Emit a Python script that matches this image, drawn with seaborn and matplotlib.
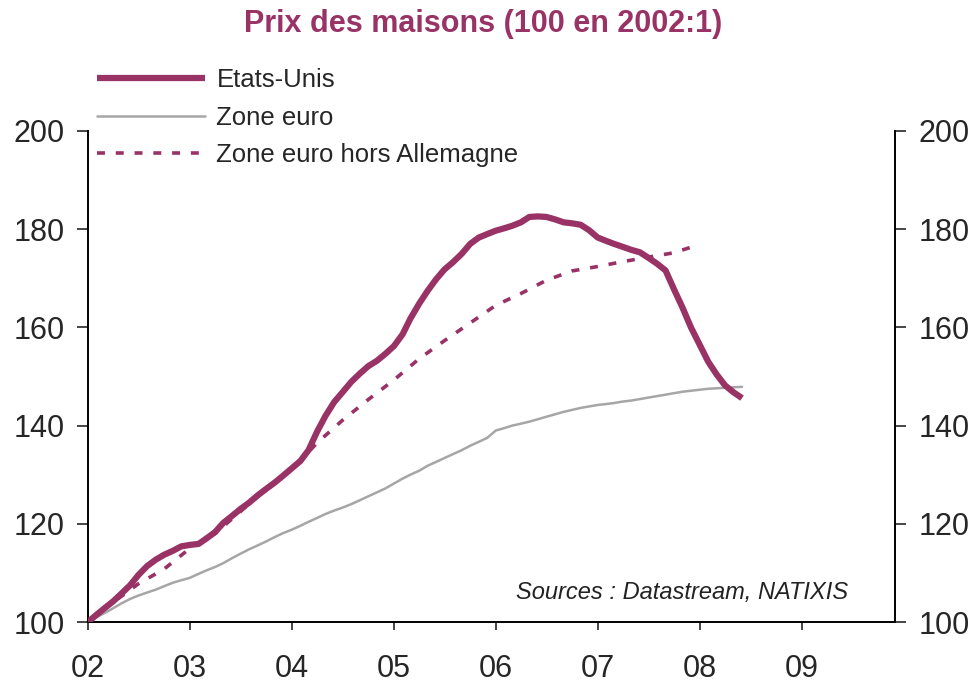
import pandas as pd
import matplotlib.pyplot as plt
import matplotlib.dates as mdates
import seaborn as sns

# House price indices, 100 = 2002:1
# Etats-Unis, monthly from 2002-01
us_values = [
    100.0, 101.5, 102.8, 104.2, 105.8, 107.5, 109.6, 111.4, 112.7, 113.7, 114.5, 115.4,
    115.7, 115.9, 117.0, 118.3, 120.2, 121.6, 123.0, 124.3, 125.8, 127.1, 128.4, 129.8,
    131.3, 132.8, 135.0, 138.8, 142.0, 144.8, 146.8, 148.9, 150.6, 152.1, 153.2, 154.6,
    156.2, 158.6, 161.8, 164.8, 167.4, 169.8, 171.8, 173.3, 175.0, 177.0, 178.3, 179.0,
    179.7, 180.2, 180.7, 181.4, 182.5, 182.6, 182.5, 182.0, 181.4, 181.2, 180.9, 179.8,
    178.3, 177.6, 177.0, 176.4, 175.8, 175.3, 174.2, 173.0, 171.6, 167.8, 164.0, 160.0,
    156.5, 153.0, 150.5, 148.2, 146.8, 145.6,
]

# Zone euro, monthly from 2002-01
ez_values = [
    100.0, 101.0, 101.8, 102.8, 103.8, 104.7, 105.4, 106.0, 106.6, 107.3, 108.0, 108.5,
    109.0, 109.8, 110.5, 111.2, 112.0, 113.0, 113.9, 114.8, 115.6, 116.4, 117.3, 118.1,
    118.8, 119.6, 120.4, 121.2, 122.0, 122.7, 123.3, 124.0, 124.8, 125.6, 126.4, 127.2,
    128.2, 129.2, 130.0, 130.8, 131.8, 132.6, 133.4, 134.2, 135.0, 135.9, 136.7, 137.5,
    139.0, 139.5, 140.0, 140.4, 140.8, 141.3, 141.8, 142.3, 142.8, 143.2, 143.6, 143.9,
    144.2, 144.4, 144.6, 144.9, 145.1, 145.4, 145.7, 146.0, 146.3, 146.6, 146.9, 147.1,
    147.3, 147.5, 147.6, 147.7, 147.8, 147.9,
]

# Zone euro hors Allemagne, quarterly from 2002Q1
exde_values = [
    100.0, 104.0, 107.8, 110.8,
    115.0, 118.0, 122.5, 127.0,
    131.0, 136.5, 141.1, 145.3,
    149.3, 153.6, 157.3, 160.9,
    164.5, 166.9, 169.6, 171.5,
    172.4, 173.4, 174.3, 175.2,
    176.9,
]

us_dates = pd.date_range("2002-01-01", periods=len(us_values), freq="MS")
ez_dates = pd.date_range("2002-01-01", periods=len(ez_values), freq="MS")
exde_dates = pd.date_range("2002-01-01", periods=len(exde_values), freq="QS")

purple = "#993366"
grey = "#a6a6a6"

sns.set_style("ticks")
plt.rcParams["font.family"] = ["Liberation Sans", "DejaVu Sans"]

fig = plt.figure(figsize=(9.74, 6.82), dpi=100)
ax = fig.add_axes([88 / 974, 1 - 622 / 682, (895 - 88) / 974, (622 - 131) / 682])

sns.lineplot(x=us_dates, y=us_values, ax=ax, color=purple, lw=4.5,
             label="Etats-Unis", zorder=3, solid_capstyle="butt")
sns.lineplot(x=ez_dates, y=ez_values, ax=ax, color=grey, lw=1.8,
             label="Zone euro", zorder=2)
sns.lineplot(x=exde_dates, y=exde_values, ax=ax, color=purple, lw=2.6,
             linestyle=(0, (2.2, 3.0)), label="Zone euro hors Allemagne", zorder=2.5)

ax.set_ylim(100, 200)
ax.set_yticks([100, 120, 140, 160, 180, 200])
ax.set_xlim(pd.Timestamp("2002-01-01"), pd.Timestamp("2009-12-01"))
ax.xaxis.set_major_locator(mdates.YearLocator())
ax.xaxis.set_major_formatter(mdates.DateFormatter("%y"))
ax.set_xlabel("")
ax.set_ylabel("")

for side in ["left", "right", "bottom"]:
    ax.spines[side].set_visible(True)
    ax.spines[side].set_color("black")
    ax.spines[side].set_linewidth(1.4)
ax.spines["top"].set_visible(False)

ax.tick_params(axis="y", which="both", direction="out", length=8, width=1.2,
               labelsize=22, pad=9, left=True, right=True, labelleft=True, labelright=True)
ax.tick_params(axis="x", direction="out", length=6, width=1.2, labelsize=22, pad=17)

ax.legend(loc="upper left", bbox_to_anchor=(97 / 974, 1 - 68 / 682),
          bbox_transform=fig.transFigure, frameon=False, fontsize=18.5,
          handlelength=4.2, handletextpad=0.45, labelspacing=0.53,
          borderpad=0, borderaxespad=0)

ax.text(0.942, 0.061, "Sources : Datastream, NATIXIS", transform=ax.transAxes,
        ha="right", va="center", fontsize=17, style="italic", color="#222222")

fig.text(483 / 974, 1 - 24 / 682, "Prix des maisons (100 en 2002:1)", ha="center",
         va="center", fontsize=22, fontweight="bold", color=purple)

fig.savefig("out.png", dpi=100)
